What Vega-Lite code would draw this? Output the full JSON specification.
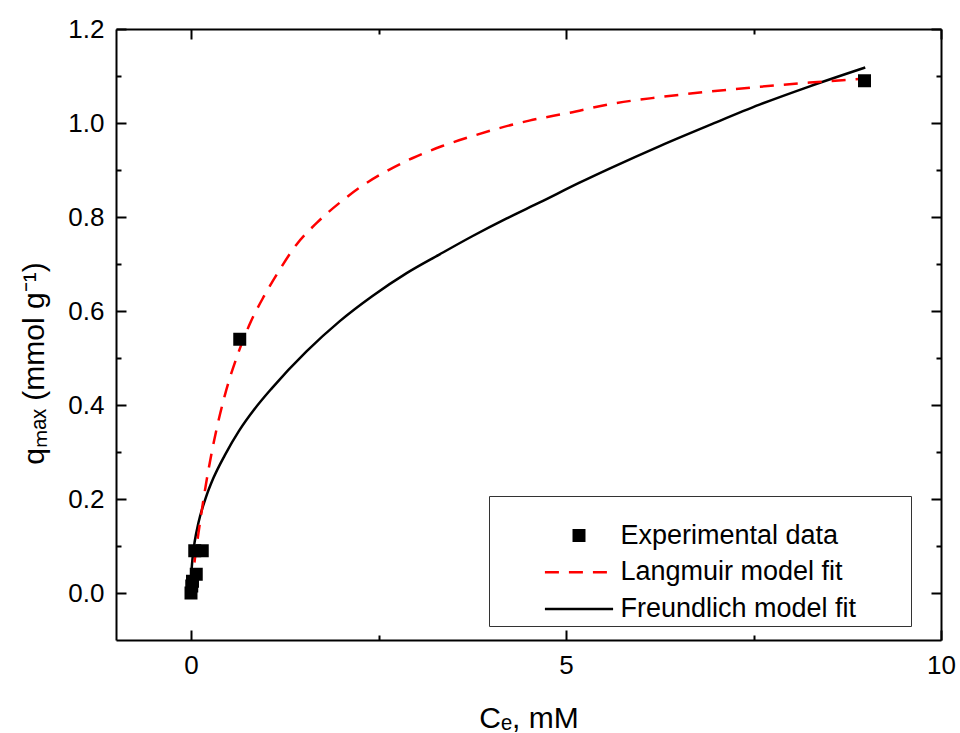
{
  "$schema": "https://vega.github.io/schema/vega-lite/v6.json",
  "width": 825,
  "height": 611,
  "autosize": {"type": "none"},
  "padding": {"left": 116, "top": 29, "right": 19, "bottom": 93},
  "background": "white",
  "config": {
    "font": "Liberation Sans",
    "view": {"stroke": null},
    "axis": {
      "grid": false,
      "domainColor": "black",
      "domainWidth": 2,
      "tickColor": "black",
      "tickWidth": 2,
      "labelColor": "black",
      "titleColor": "black",
      "labelFont": "Liberation Sans",
      "titleFont": "Liberation Sans",
      "labelFontSize": 26,
      "titleFontSize": 30,
      "titleFontWeight": "normal",
      "labelFlush": false,
      "labelOverlap": false
    }
  },
  "datasets": {
    "points": [
      {"C": 0, "q": 0, "series": "Experimental data"},
      {"C": 0.01, "q": 0.015, "series": "Experimental data"},
      {"C": 0.02, "q": 0.025, "series": "Experimental data"},
      {"C": 0.07, "q": 0.04, "series": "Experimental data"},
      {"C": 0.05, "q": 0.09, "series": "Experimental data"},
      {"C": 0.15, "q": 0.09, "series": "Experimental data"},
      {"C": 0.65, "q": 0.54, "series": "Experimental data"},
      {"C": 8.98, "q": 1.09, "series": "Experimental data"}
    ],
    "langmuir": [
      {"C": 0.01, "q": 0.014},
      {"C": 0.03, "q": 0.042},
      {"C": 0.05, "q": 0.07},
      {"C": 0.1, "q": 0.128},
      {"C": 0.2, "q": 0.232},
      {"C": 0.3, "q": 0.318},
      {"C": 0.45, "q": 0.42},
      {"C": 0.64, "q": 0.515},
      {"C": 0.8, "q": 0.578},
      {"C": 0.975, "q": 0.632},
      {"C": 1.175, "q": 0.686},
      {"C": 1.4, "q": 0.74},
      {"C": 1.68, "q": 0.788},
      {"C": 1.98, "q": 0.83},
      {"C": 2.28, "q": 0.866},
      {"C": 2.6, "q": 0.897},
      {"C": 2.95, "q": 0.925},
      {"C": 3.35, "q": 0.951},
      {"C": 3.75, "q": 0.972},
      {"C": 4.11, "q": 0.989},
      {"C": 4.51, "q": 1.005},
      {"C": 5.05, "q": 1.022},
      {"C": 5.58, "q": 1.040},
      {"C": 6.25, "q": 1.055},
      {"C": 6.92, "q": 1.067},
      {"C": 7.58, "q": 1.077},
      {"C": 8.25, "q": 1.086},
      {"C": 8.95, "q": 1.094}
    ],
    "freundlich": [
      {"C": 0.0005, "q": 0.014},
      {"C": 0.002, "q": 0.026},
      {"C": 0.005, "q": 0.039},
      {"C": 0.01, "q": 0.054},
      {"C": 0.02, "q": 0.073},
      {"C": 0.05, "q": 0.11},
      {"C": 0.1, "q": 0.15},
      {"C": 0.2, "q": 0.204},
      {"C": 0.3, "q": 0.245},
      {"C": 0.45, "q": 0.293},
      {"C": 0.64, "q": 0.345},
      {"C": 0.85, "q": 0.392},
      {"C": 1.08, "q": 0.436},
      {"C": 1.54, "q": 0.514},
      {"C": 1.98, "q": 0.578},
      {"C": 2.42, "q": 0.632},
      {"C": 2.87, "q": 0.680},
      {"C": 3.31, "q": 0.720},
      {"C": 3.75, "q": 0.759},
      {"C": 4.21, "q": 0.797},
      {"C": 4.65, "q": 0.831},
      {"C": 5.18, "q": 0.873},
      {"C": 5.58, "q": 0.903},
      {"C": 6.25, "q": 0.951},
      {"C": 6.92, "q": 0.996},
      {"C": 7.58, "q": 1.039},
      {"C": 8.25, "q": 1.078},
      {"C": 8.99, "q": 1.118}
    ]
  },
  "resolve": {"axis": {"x": "independent", "y": "independent"}},
  "layer": [
    {
      "data": {"name": "freundlich"},
      "mark": {"type": "line", "color": "black", "strokeWidth": 2.5, "interpolate": "monotone"},
      "encoding": {
        "x": {
          "field": "C", "type": "quantitative",
          "scale": {"domain": [-1, 10], "nice": false, "zero": false},
          "axis": {"orient": "bottom", "values": [0, 5, 10], "tickSize": -10, "labelPadding": 22, "title": "Cₑ, mM", "titleBaseline": "alphabetic", "titleY": 87}
        },
        "y": {
          "field": "q", "type": "quantitative",
          "scale": {"domain": [-0.1, 1.2], "nice": false, "zero": false},
          "axis": {"orient": "left", "values": [0, 0.2, 0.4, 0.6, 0.8, 1.0, 1.2], "format": ".1f", "tickSize": -10, "labelPadding": 22, "title": "qₘₐₓ (mmol g⁻¹)", "titleX": -82, "titleY": 334, "titleAlign": "center", "titleBaseline": "middle", "titleAngle": -90}
        }
      }
    },
    {
      "data": {"name": "langmuir"},
      "mark": {"type": "line", "color": "red", "strokeWidth": 2.5, "strokeDash": [14, 10], "interpolate": "monotone"},
      "encoding": {
        "x": {"field": "C", "type": "quantitative", "axis": {"orient": "top", "values": [0, 5, 10], "tickSize": -10, "labels": false, "title": null}},
        "y": {"field": "q", "type": "quantitative", "axis": {"orient": "right", "values": [0, 0.2, 0.4, 0.6, 0.8, 1.0, 1.2], "tickSize": -10, "labels": false, "title": null}}
      }
    },
    {
      "data": {"name": "points"},
      "mark": {"type": "point", "opacity": 0},
      "encoding": {
        "x": {"field": "C", "type": "quantitative", "axis": {"orient": "bottom", "values": [2.5, 7.5], "tickSize": -5, "labels": false, "domain": false, "title": null}},
        "y": {"field": "q", "type": "quantitative", "axis": {"orient": "left", "values": [0.1, 0.3, 0.5, 0.7, 0.9, 1.1], "tickSize": -5, "labels": false, "domain": false, "title": null}}
      }
    },
    {
      "data": {"name": "points"},
      "mark": {"type": "point", "opacity": 0},
      "encoding": {
        "x": {"field": "C", "type": "quantitative", "axis": {"orient": "top", "values": [2.5, 7.5], "tickSize": -5, "labels": false, "domain": false, "title": null}},
        "y": {"field": "q", "type": "quantitative", "axis": {"orient": "right", "values": [0.1, 0.3, 0.5, 0.7, 0.9, 1.1], "tickSize": -5, "labels": false, "domain": false, "title": null}}
      }
    },
    {
      "data": {"name": "points"},
      "mark": {"type": "point", "filled": false, "fill": "black", "size": 110, "strokeWidth": 2.5, "opacity": 1},
      "encoding": {
        "x": {"field": "C", "type": "quantitative", "axis": null},
        "y": {"field": "q", "type": "quantitative", "axis": null},
        "color": {
          "field": "series", "type": "nominal",
          "scale": {"domain": ["Experimental data", "Langmuir model fit", "Freundlich model fit"], "range": ["black", "red", "black"]},
          "legend": {
            "orient": "none", "legendX": 373, "legendY": 467,
            "title": "\u00a0", "titleFontSize": 12, "titlePadding": 10,
            "padding": 4, "strokeColor": "#333333", "fillColor": "white",
            "labelFontSize": 27, "labelFont": "Liberation Sans", "labelColor": "black", "labelLimit": 500,
            "symbolSize": 110, "symbolStrokeWidth": 2.5,
            "rowPadding": 8.7,
            "symbolOffset": 72.5, "labelOffset": 28,
            "labelExpr": "datum.label + '\u00a0\u00a0\u00a0\u00a0\u2800'"
          }
        },
        "shape": {
          "field": "series", "type": "nominal",
          "scale": {"domain": ["Experimental data", "Langmuir model fit", "Freundlich model fit"], "range": ["square", "M-6.5,0H6.5", "M-6.5,0H6.5"]}
        },
        "strokeDash": {
          "field": "series", "type": "nominal",
          "scale": {"domain": ["Experimental data", "Langmuir model fit", "Freundlich model fit"], "range": [[1, 0], [14, 10], [1, 0]]}
        }
      }
    }
  ]
}
